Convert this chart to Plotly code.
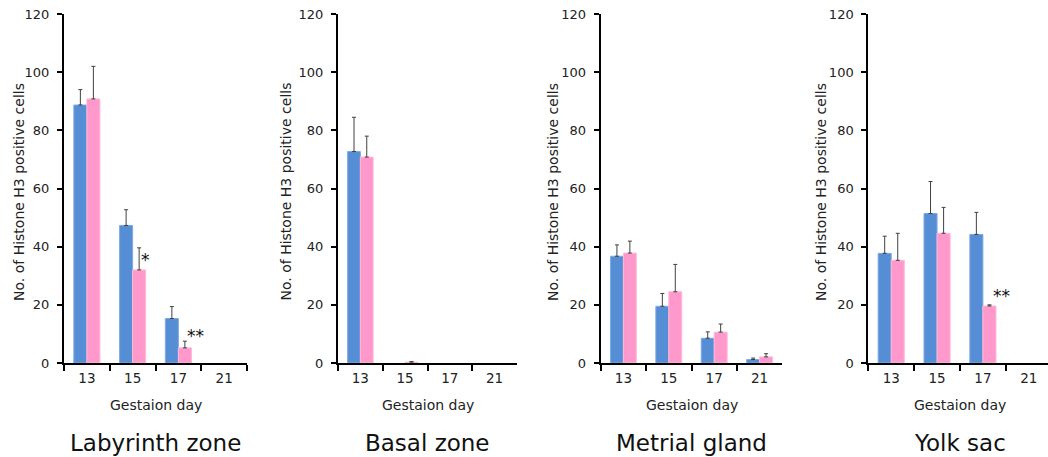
import plotly.graph_objects as go

days = ["13", "15", "17", "21"]
panel_titles = ["Labyrinth zone", "Basal zone", "Metrial gland", "Yolk sac"]

# series values per panel (blue = control, pink = treated)
lab_blue = [88.7, 47.3, 15.3, 0]
lab_blue_err = [5.3, 5.4, 4.1, 0]
lab_pink = [90.8, 32.0, 5.2, 0]
lab_pink_err = [11.2, 7.6, 2.3, 0]

bas_blue = [72.7, 0, 0, 0]
bas_blue_err = [11.8, 0, 0, 0]
bas_pink = [70.8, 0.3, 0, 0]
bas_pink_err = [7.2, 0.2, 0, 0]

met_blue = [36.7, 19.5, 8.5, 1.2]
met_blue_err = [3.9, 4.4, 2.2, 0.5]
met_pink = [37.8, 24.5, 10.6, 2.1]
met_pink_err = [4.1, 9.4, 2.8, 1.1]

yolk_blue = [37.7, 51.4, 44.2, 0]
yolk_blue_err = [5.9, 11.0, 7.6, 0]
yolk_pink = [35.3, 44.6, 19.6, 0]
yolk_pink_err = [9.3, 8.9, 0.4, 0]

# significance marks
sig_panel = [0, 0, 3]
sig_cat = [1, 2, 2]
sig_y = [35.4, 9.4, 23.0]
sig_text = ["*", "**", "**"]
sig_dx = [0.29, 0.38, 0.41]

blue_series = [lab_blue, bas_blue, met_blue, yolk_blue]
blue_errs = [lab_blue_err, bas_blue_err, met_blue_err, yolk_blue_err]
pink_series = [lab_pink, bas_pink, met_pink, yolk_pink]
pink_errs = [lab_pink_err, bas_pink_err, met_pink_err, yolk_pink_err]

W, H = 1048, 457
x_left = [64, 338, 600.7, 868.3]
x_right = [247, 517, 782.3, 1048]
x_range_max = [3.5, 3.5, 3.5, 3.42]
ytitle_x = [19, 285.5, 553, 821]
y_top, y_bot = 14, 363

BLUE = "#558ED5"
PINK = "#FF99CC"
FONT = "DejaVu Sans"

fig = go.Figure()
annotations = []
for i in range(4):
    xa = "x" if i == 0 else f"x{i+1}"
    ya = "y" if i == 0 else f"y{i+1}"
    for vals, errs, col, edge in [(blue_series[i], blue_errs[i], BLUE, "#7FAAE0"),
                                  (pink_series[i], pink_errs[i], PINK, "#FFB8DA")]:
        shown = [v if v > 0 else None for v in vals]
        fig.add_trace(go.Bar(
            x=days, y=shown, xaxis=xa, yaxis=ya,
            marker=dict(color=col, line=dict(color=edge, width=1)),
            error_y=dict(type="data", array=errs, arrayminus=[0] * len(errs),
                         symmetric=False, color="#404040", thickness=1, width=2),
            showlegend=False, hoverinfo="skip",
        ))
    dom = [x_left[i] / W, x_right[i] / W]
    axis_x = dict(domain=dom, anchor=ya, type="category", range=[-0.5, x_range_max[i]],
                  showline=True, linecolor="black", linewidth=2, automargin=False,
                  ticks="outside", tickson="boundaries", ticklen=6, tickwidth=1.5,
                  tickcolor="black", showgrid=False, ticklabelstandoff=2,
                  tickfont=dict(family=FONT, size=13.5, color="#222"))
    axis_y = dict(domain=[(H - y_bot) / H, (H - y_top) / H], anchor=xa, range=[0, 120],
                  tickvals=[0, 20, 40, 60, 80, 100, 120], showline=True, linecolor="black",
                  linewidth=2, ticks="outside", ticklen=5, tickwidth=1.5, tickcolor="black",
                  showgrid=False, zeroline=False, ticklabelstandoff=5, automargin=False,
                  tickfont=dict(family=FONT, size=13, color="#222"))
    fig.layout["xaxis" if i == 0 else f"xaxis{i+1}"] = axis_x
    fig.layout["yaxis" if i == 0 else f"yaxis{i+1}"] = axis_y

    full_right = x_left[i] + (x_right[i] - x_left[i]) * 4 / (x_range_max[i] + 0.5)
    cx = (x_left[i] + full_right) / 2 / W
    annotations.append(dict(text="Gestaion day", xref="paper", yref="paper", x=cx,
                            y=(H - 405) / H, xanchor="center", yanchor="middle",
                            showarrow=False, font=dict(family=FONT, size=14, color="#222")))
    annotations.append(dict(text=panel_titles[i], xref="paper", yref="paper", x=cx,
                            y=(H - 443) / H, xanchor="center", yanchor="middle",
                            showarrow=False, font=dict(family=FONT, size=23, color="#111")))
    annotations.append(dict(text="No. of Histone H3 positive cells", xref="paper", yref="paper",
                            x=ytitle_x[i] / W, y=(H - 192) / H, xanchor="center",
                            yanchor="middle", textangle=-90, showarrow=False,
                            font=dict(family=FONT, size=14, color="#222")))

for p, c, yv, t, dx in zip(sig_panel, sig_cat, sig_y, sig_text, sig_dx):
    xa = "x" if p == 0 else f"x{p+1}"
    ya = "y" if p == 0 else f"y{p+1}"
    annotations.append(dict(text=t, xref=xa, yref=ya, x=c + dx, y=yv, xanchor="center",
                            yanchor="middle", showarrow=False,
                            font=dict(family=FONT, size=17, color="#111")))

fig.update_layout(
    width=W, height=H, margin=dict(l=0, r=0, t=0, b=0, autoexpand=False),
    paper_bgcolor="white", plot_bgcolor="white",
    barmode="group", bargap=0.43, bargroupgap=0,
    annotations=annotations,
)

fig.write_html("out.html")
